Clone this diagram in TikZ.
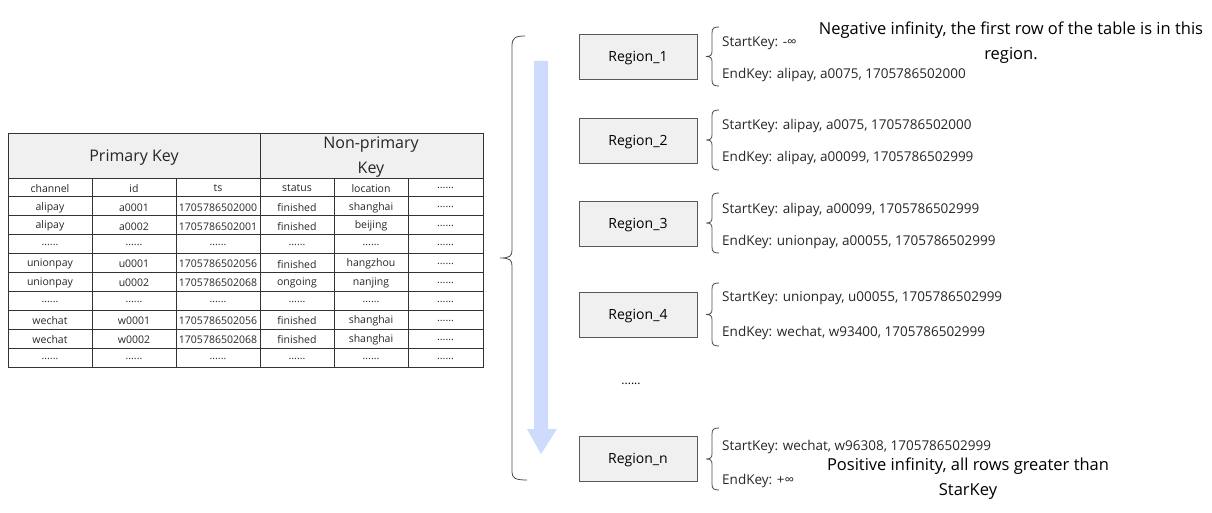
\documentclass[tikz,border=0pt]{standalone}
\usepackage{fontspec}
\setmainfont{Open Sans}
\definecolor{arrowblue}{HTML}{CFDBFC}
\definecolor{boxfill}{HTML}{F0F0F0}
\newcommand\tdots{......}
\newcommand\kbrace[3]{% top, bottom, name
  \pgfmathsetmacro\kbm{(#1+#2)/2}
  \draw[brc] (719,#1) .. controls (714,#1) and (712,#1+1) .. (712,#1+6) -- (712,\kbm-5)
    .. controls (712,\kbm-1) and (710,\kbm) .. (706,\kbm) coordinate (#3)
    .. controls (710,\kbm) and (712,\kbm+1) .. (712,\kbm+5) -- (712,#2-6)
    .. controls (712,#2-1) and (714,#2) .. (719,#2);}
\begin{document}
\begin{tikzpicture}[x=1pt,y=-1pt,
  regionbox/.style={draw=black!65, fill=boxfill, minimum width=118pt, minimum height=45pt, font=\fontsize{14}{16}\selectfont, inner sep=0, text height=10pt, text depth=0.5pt},
  keytxt/.style={anchor=west, font=\fontsize{13.5}{16}\selectfont, inner sep=0, text=black!85},
  cell/.style={font=\fontsize{10.5}{12}\selectfont, inner sep=0, text=black!85},
  hdr/.style={font=\fontsize{16}{25}\selectfont, align=center, inner sep=0, text=black!85},
  note/.style={font=\fontsize{16.5}{25}\selectfont, align=center, inner sep=0},
  brc/.style={draw=black!70, line width=0.8pt},
  grid/.style={draw=black!80, line width=0.8pt}]
\useasboundingbox (0,0) rectangle (1212,513);

% ---- table ----
\fill[boxfill] (8,133) rectangle (483,178);
\foreach \yy in {178,196.9,215.8,234.7,253.6,272.5,291.4,310.3,329.2,348.1}
  \draw[grid] (8,\yy) -- (483,\yy);
\foreach \xx in {92,176}
  \draw[grid] (\xx,178) -- (\xx,367);
\foreach \xx in {334,408}
  \draw[grid] (\xx,178) -- (\xx,367);
\draw[grid] (260,133) -- (260,367);
\draw[grid] (8,133) rectangle (483,367);
\node[hdr] (pk) at (134,158) {Primary Key};
\node[hdr] (npk) at (371,157.5) {Non-primary\\Key};
\def\colxs{{50,134,218,297,371,445.5}}
\foreach \row [count=\r] in {
  {channel,id,ts,status,location,\tdots},
  {alipay,a0001,1705786502000,finished,shanghai,\tdots},
  {alipay,a0002,1705786502001,finished,beijing,\tdots},
  {\tdots,\tdots,\tdots,\tdots,\tdots,\tdots},
  {unionpay,u0001,1705786502056,finished,hangzhou,\tdots},
  {unionpay,u0002,1705786502068,ongoing,nanjing,\tdots},
  {\tdots,\tdots,\tdots,\tdots,\tdots,\tdots},
  {wechat,w0001,1705786502056,finished,shanghai,\tdots},
  {wechat,w0002,1705786502068,finished,shanghai,\tdots},
  {\tdots,\tdots,\tdots,\tdots,\tdots,\tdots}} {
  \foreach \v [count=\c] in \row {
    \pgfmathsetmacro\cx{\colxs[\c-1]}
    \node[cell] (cell-\r-\c) at (\cx,{179+18.9*(\r-0.5)}) {\v};
  }
}

% ---- big brace ----
\draw[brc] (525,36) .. controls (515,36) and (512,38) .. (512,46) -- (512,250)
  .. controls (512,256) and (510,258) .. (500,258) coordinate (bigtip)
  .. controls (510,258) and (512,260) .. (512,266) -- (512,472)
  .. controls (512,478) and (515,480) .. (527,480);

% ---- blue arrow ----
\fill[arrowblue] (534,61) -- (548,61) -- (548,429) -- (557,429) -- (541,454) -- (527,429) -- (534,429) -- cycle;

% ---- regions ----
\node[regionbox] (r1) at (638,56.5) {Region\_1};
\node[regionbox] (r2) at (638,140.5) {Region\_2};
\node[regionbox] (r3) at (638,223.5) {Region\_3};
\node[regionbox] (r4) at (638,314.5) {Region\_4};
\node[regionbox] (rn) at (638,458.5) {Region\_n};
\node[font=\fontsize{12}{14}\selectfont, inner sep=0] (dots) at (631,384) {\tdots};

\kbrace{27}{86}{b1}
\kbrace{110}{170}{b2}
\kbrace{193}{253}{b3}
\kbrace{283}{346}{b4}
\kbrace{428}{490}{bn}

\node[keytxt] (s1) at (722,43.5) {StartKey: -∞};
\node[keytxt] (e1) at (722,74.5) {EndKey: alipay, a0075, 1705786502000};
\node[keytxt] (s2) at (722,125.5) {StartKey: alipay, a0075, 1705786502000};
\node[keytxt] (e2) at (722,157.5) {EndKey: alipay, a00099, 1705786502999};
\node[keytxt] (s3) at (722,209.5) {StartKey: alipay, a00099, 1705786502999};
\node[keytxt] (e3) at (722,241.5) {EndKey: unionpay, a00055, 1705786502999};
\node[keytxt] (s4) at (722,298.5) {StartKey: unionpay, u00055, 1705786502999};
\node[keytxt] (e4) at (722,332.5) {EndKey: wechat, w93400, 1705786502999};
\node[keytxt] (sn) at (722,446.5) {StartKey: wechat, w96308, 1705786502999};
\node[keytxt] (en) at (722,480.5) {EndKey: +∞};

\node[note] (neg) at (1011,43) {Negative infinity, the first row of the table is in this\\region.};
\node[note] (pos) at (968,479) {Positive infinity, all rows greater than\\StarKey};
\end{tikzpicture}
\end{document}
